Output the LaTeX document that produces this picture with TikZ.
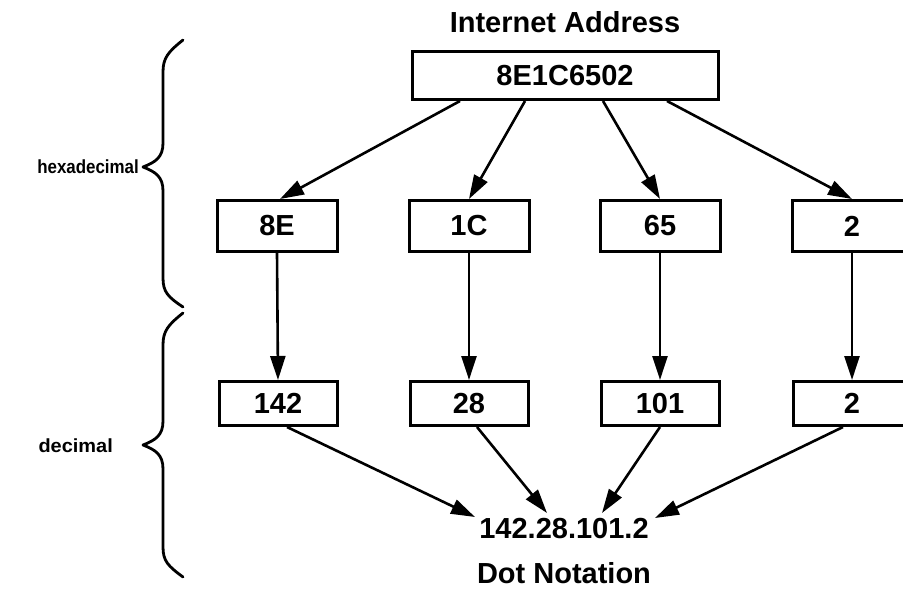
\documentclass[tikz,border=0pt]{standalone}
\usepackage{fontspec}
\setmainfont{Liberation Sans}
\usetikzlibrary{arrows.meta}
\begin{document}
\begin{tikzpicture}[x=1pt,y=-1pt,
  every node/.style={font=\fontsize{29}{34}\selectfont\bfseries, inner sep=0pt},
  valbox/.style={draw, line width=3pt, minimum width=#1, anchor=north},
  hexbox/.style={valbox=120pt, minimum height=51pt},
  decbox/.style={valbox=118pt, minimum height=44pt},
  conn/.style={line width=2.6pt, -{Triangle[length=24pt,width=15pt]}},
  brace/.style={line width=2.8pt, line cap=round, line join=round},
  side/.style={font=\fontsize{19}{22}\selectfont\bfseries, anchor=east}]
\useasboundingbox (0,0) rectangle (903,599);

% titles
\node (title) at (565,22) {Internet Address};
\node (caption) at (564,573) {Dot Notation};

% full address
\node[valbox=306pt, minimum height=48pt] (addr) at (565,50) {8E1C6502};

% hexadecimal bytes
\node[hexbox] (h1) at (277,199) {8E};
\node[hexbox] (h2) at (469,199) {1C};
\node[hexbox] (h3) at (660,199) {65};
\node[hexbox] (h4) at (852,199) {2};

% decimal bytes
\node[decbox] (d1) at (278,380) {142};
\node[decbox] (d2) at (469,380) {28};
\node[decbox] (d3) at (660,380) {101};
\node[decbox] (d4) at (852,380) {2};

% dotted result
\node (dot) at (564,529) {142.28.101.2};

% split into bytes
\draw[conn] ([xshift=-105pt]addr.south) -- ([xshift=3pt]h1.north);
\draw[conn] ([xshift=-40pt]addr.south) -- (h2.north);
\draw[conn] ([xshift=38pt]addr.south) -- (h3.north);
\draw[conn] ([xshift=102pt]addr.south) -- (h4.north);

% hex to decimal
\foreach \i in {1,...,4} \draw[conn] (h\i.south) -- (d\i.north);

% join into dotted form
\draw[conn] ([xshift=9pt]d1.south) -- ([xshift=-89pt,yshift=12pt]dot.center);
\draw[conn] ([xshift=8pt]d2.south) -- ([xshift=-17pt,yshift=16pt]dot.center);
\draw[conn] (d3.south) -- ([xshift=38pt,yshift=16pt]dot.center);
\draw[conn] ([xshift=-9pt]d4.south) -- ([xshift=91pt,yshift=11pt]dot.center);

% braces and their labels
\draw[brace] (183,40) .. controls (168,52) and (163,58) .. (163,72) -- (163,143)
  .. controls (163,157) and (156,162) .. (143,167)
  .. controls (156,172) and (163,177) .. (163,191) -- (163,278)
  .. controls (163,292) and (168,297) .. (183,307);
\draw[brace] (183,313) .. controls (168,325) and (163,331) .. (163,345) -- (163,421)
  .. controls (163,435) and (156,440) .. (143,445)
  .. controls (156,450) and (163,455) .. (163,469) -- (163,547)
  .. controls (163,561) and (168,566) .. (183,577);
\node[side] (hexlbl) at (139,167) {\scalebox{0.89}[1]{hexadecimal}};
\node[side] (declbl) at (113,446) {\scalebox{1.05}[1]{decimal}};
\end{tikzpicture}
\end{document}
